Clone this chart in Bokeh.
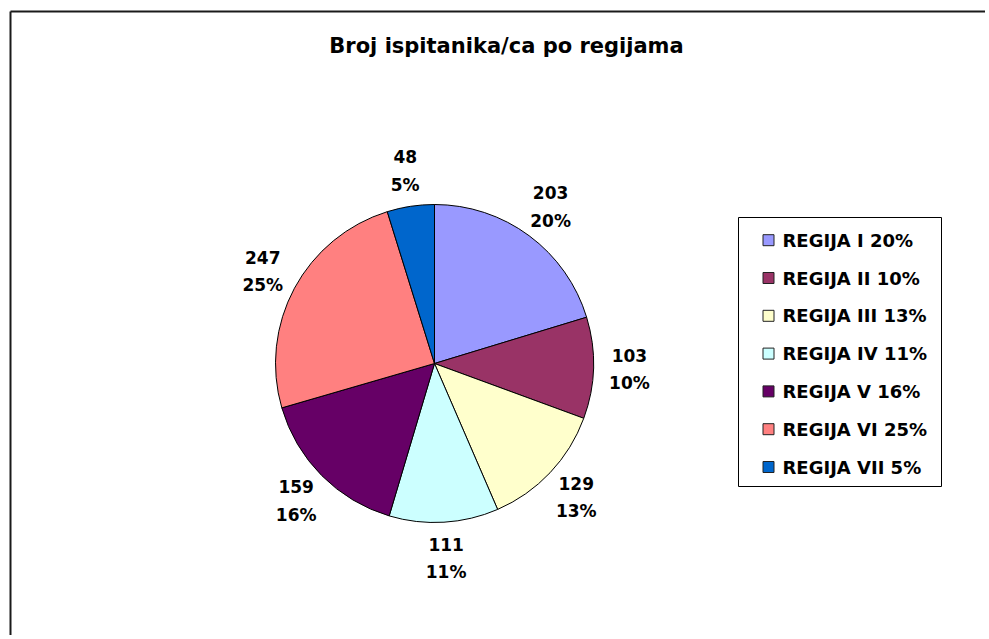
import math
from bokeh.plotting import figure
from bokeh.models import Range1d, ColumnDataSource
from bokeh.core.properties import value
from bokeh.embed import file_html
from bokeh.resources import INLINE

# ---- data ----
title_text = "Broj ispitanika/ca po regijama"
regions = ["REGIJA I", "REGIJA II", "REGIJA III", "REGIJA IV", "REGIJA V", "REGIJA VI", "REGIJA VII"]
counts = [203, 103, 129, 111, 159, 247, 48]
colors = ["#9999FF", "#993366", "#FFFFCC", "#CCFFFF", "#660066", "#FF8080", "#0066CC"]

W, H = 985, 635
FONT = "DejaVu Sans"

def sy(y):
    # screen y (page pixels) -> data y
    return H - y

p = figure(width=W, height=H, x_range=Range1d(0, W), y_range=Range1d(0, H),
           output_backend="svg", toolbar_location=None, min_border=0)
p.axis.visible = False
p.grid.visible = False
p.outline_line_color = None
p.background_fill_color = "white"
p.border_fill_color = "white"

# chart frame (top and left edges visible)
p.segment(x0=[10, 10], y0=[sy(11), sy(11)], x1=[1100, 10], y1=[sy(11), -50],
          line_color="#1a1a1a", line_width=2)

# title
p.text(x=[506], y=[sy(45)], text=[title_text], text_font=value(FONT),
       text_font_style="bold", text_font_size="21px", text_align="center",
       text_baseline="middle", text_color="black")

# pie
cx, cy, r = 434, sy(363), 159
total = sum(counts)
starts, ends, mids = [], [], []
cum = 0
for c in counts:
    a0 = math.pi / 2 - 2 * math.pi * cum / total
    cum += c
    a1 = math.pi / 2 - 2 * math.pi * cum / total
    starts.append(a0)
    ends.append(a1)
    mids.append((a0 + a1) / 2)

pcts = [round(100 * c / total) for c in counts]
src = ColumnDataSource(dict(start=starts, end=ends, color=colors))
p.wedge(x=cx, y=cy, radius=r, start_angle="start", end_angle="end",
        direction="clock", fill_color="color", line_color="black", line_width=1, source=src)

# data labels
rl = 195
lx = [cx + rl * math.cos(m) for m in mids]
ly = [cy + rl * math.sin(m) for m in mids]
p.text(x=lx, y=ly, text=[str(c) for c in counts], y_offset=-14, text_font=value(FONT),
       text_font_style="bold", text_font_size="17px", text_align="center",
       text_baseline="middle", text_color="black")
p.text(x=lx, y=ly, text=[f"{q}%" for q in pcts], y_offset=14, text_font=value(FONT),
       text_font_style="bold", text_font_size="17px", text_align="center",
       text_baseline="middle", text_color="black")

# legend
p.quad(left=[738], right=[941], top=[sy(217)], bottom=[sy(486)],
       fill_color="white", line_color="black", line_width=1)
row0, step = 239.7, 37.8
ry = [sy(row0 + i * step) for i in range(len(regions))]
p.scatter(x=[768] * len(regions), y=ry, marker="square", size=11,
          fill_color=colors, line_color="#222222", line_width=1)
p.text(x=[782] * len(regions), y=ry, text=[f"{n} {q}%" for n, q in zip(regions, pcts)],
       text_font=value(FONT), text_font_style="bold", text_font_size="18px",
       text_align="left", text_baseline="middle", text_color="black")

open("out.html", "w").write(file_html(p, INLINE))
